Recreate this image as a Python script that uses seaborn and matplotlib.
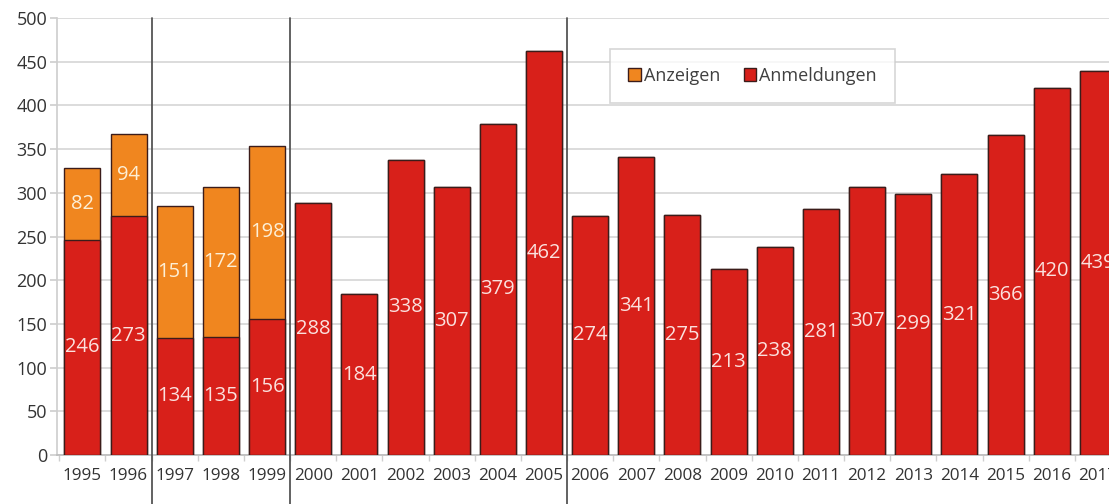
import matplotlib
matplotlib.use("Agg")
import numpy as np
import matplotlib.pyplot as plt
import matplotlib.transforms as mtransforms
from matplotlib.patches import Patch
import pandas as pd
import seaborn as sns

# data
years = [str(y) for y in range(1995, 2018)]
anmeldungen = [246, 273, 134, 135, 156, 288, 184, 338, 307, 379, 462,
               274, 341, 275, 213, 238, 281, 307, 299, 321, 366, 420, 439]
anzeigen = [82, 94, 151, 172, 198] + [0] * 18
separators = ["1996", "1999", "2005"]  # vertical line after these years

df = pd.DataFrame({"Jahr": years, "Anmeldungen": anmeldungen, "Anzeigen": anzeigen})
df["Gesamt"] = df["Anmeldungen"] + df["Anzeigen"]

red = "#d8201a"
orange = "#f0861f"
edge = "#3b1c1a"

sns.set_theme(style="white")
plt.rcParams["font.family"] = ["Open Sans", "DejaVu Sans"]

fig = plt.figure(figsize=(11.09, 5.04), dpi=100)
ax = fig.add_axes([57 / 1109, 49 / 504, 1052 / 1109, 437 / 504])

# stacked bars: total in orange, Anmeldungen in red drawn on top
sns.barplot(data=df, x="Jahr", y="Gesamt", color=orange, edgecolor=edge,
            linewidth=1, width=0.78, saturation=1, ax=ax, zorder=3)
sns.barplot(data=df, x="Jahr", y="Anmeldungen", color=red, edgecolor=edge,
            linewidth=1, width=0.78, saturation=1, ax=ax, zorder=3)

# value labels
for i, (a, z) in enumerate(zip(anmeldungen, anzeigen)):
    ax.text(i, a / 2, str(a), ha="center", va="center", color="#fbe1de",
            fontsize=14.5, zorder=5)
    if z > 0:
        ax.text(i, a + z / 2, str(z), ha="center", va="center", color="#fdefd6",
                fontsize=14.5, zorder=5)

ax.set_yticks(range(0, 501, 50))
ax.set_xticks(np.arange(-0.5, len(years), 1), minor=True)
ax.set_ylim(0, 500)
ax.set_xlim(-0.55, 22.24)
ax.yaxis.grid(True, color="#d6d6d6", linewidth=1.2, zorder=0)
ax.set_xlabel("")
ax.set_ylabel("")

for s in ["top", "right"]:
    ax.spines[s].set_visible(False)
ax.spines["left"].set_color("#cfcfcf")
ax.spines["bottom"].set_color("#bdbdbd")
ax.tick_params(axis="y", left=True, length=5, color="#cfcfcf", labelsize=13,
               labelcolor="#333333", pad=2)
ax.tick_params(axis="x", bottom=False, labelsize=12.3, labelcolor="#333333", pad=3)
ax.tick_params(axis="x", which="minor", bottom=True, length=4, color="#cfcfcf")

# vertical separators, reaching down through the tick labels
trans = mtransforms.blended_transform_factory(ax.transData, ax.transAxes)
for yr in separators:
    xpos = years.index(yr) + 0.5
    ax.plot([xpos, xpos], [-0.115, 1.0], color="#555555", linewidth=1.3,
            transform=trans, clip_on=False, zorder=6)
ax.set_xlim(-0.55, 22.24)

# legend
handles = [Patch(facecolor=orange, edgecolor=edge, label="Anzeigen"),
           Patch(facecolor=red, edgecolor=edge, label="Anmeldungen")]
leg = ax.legend(handles=handles, loc="upper left", bbox_to_anchor=(0.526, 0.93),
                ncol=2, frameon=True, fancybox=False, edgecolor="#cccccc",
                fontsize=13, handlelength=0.7, handleheight=0.7,
                handletextpad=0.15, columnspacing=1.3, borderpad=1.0,
                borderaxespad=0)
leg.get_frame().set_linewidth(1.2)
for t in leg.get_texts():
    t.set_color("#404040")

fig.savefig("out.png", dpi=100)
